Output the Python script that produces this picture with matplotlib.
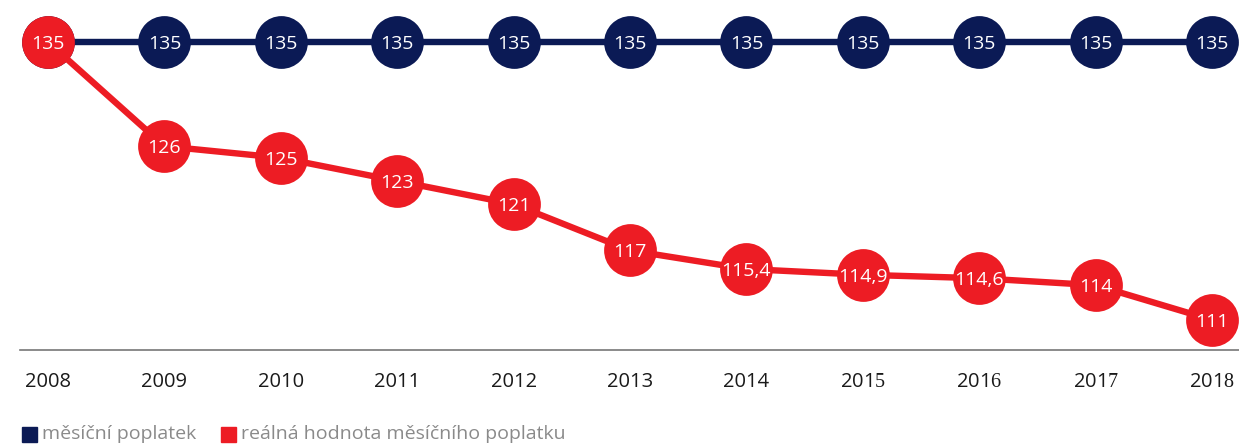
import matplotlib.pyplot as plt
from matplotlib.patches import Rectangle

plt.rcParams['font.family'] = ['Open Sans', 'DejaVu Sans']
# the source renders the last digit of some years in a serif face
plt.rcParams['mathtext.fontset'] = 'custom'
plt.rcParams['mathtext.rm'] = 'Liberation Serif'

years = [2008, 2009, 2010, 2011, 2012, 2013, 2014, 2015, 2016, 2017, 2018]
monthly_fee = [135, 135, 135, 135, 135, 135, 135, 135, 135, 135, 135]
real_value = [135, 126, 125, 123, 121, 117, 115.4, 114.9, 114.6, 114, 111]
year_labels = ['2008', '2009', '2010', '2011', '2012', '2013', '2014',
               r'201$\mathrm{5}$', r'201$\mathrm{6}$', r'201$\mathrm{7}$',
               r'201$\mathrm{8}$']
series_names = ['měsíční poplatek', 'reálná hodnota měsíčního poplatku']

BLUE = '#0b1a55'
RED = '#ed1c24'

W, H = 1239, 444
fig = plt.figure(figsize=(W / 100, H / 100), dpi=100)
# axes from x=20px to right edge, from top to baseline at y=350px
ax = fig.add_axes([20 / W, (H - 350) / H, 1 - 20 / W, 350 / H])

px_per_year = 116.4
ax.set_xlim(2008 - 28 / px_per_year, 2008 + (W - 48) / px_per_year)
px_per_unit = 11.58
ax.set_ylim(135 - (350 - 42) / px_per_unit, 135 + 42 / px_per_unit)


def fmt(v):
    return f'{v:g}'.replace('.', ',')


ax.plot(years, monthly_fee, color=BLUE, lw=4.6, marker='o', ms=38,
        mec='none', clip_on=False, zorder=2)
ax.plot(years, real_value, color=RED, lw=4.6, marker='o', ms=38,
        mec='none', clip_on=False, zorder=3)
# first red marker sits on top of the blue one
for x, y in zip(years[1:], monthly_fee[1:]):
    ax.text(x, y, fmt(y), color='white', fontsize=14, ha='center',
            va='center_baseline', zorder=5)
for x, y in zip(years, real_value):
    ax.text(x, y, fmt(y), color='white', fontsize=14, ha='center',
            va='center_baseline', zorder=5)

for s in ['top', 'right', 'left']:
    ax.spines[s].set_visible(False)
ax.spines['bottom'].set_color('#777777')
ax.spines['bottom'].set_linewidth(1.2)
ax.set_yticks([])
ax.set_xticks(years)
ax.set_xticklabels(year_labels)
ax.tick_params(axis='x', length=0, pad=16, labelsize=14.5, labelcolor='#1a1a1a')

# legend
legend_items = [(22, BLUE, series_names[0]), (221, RED, series_names[1])]
for x0, c, label in legend_items:
    fig.patches.append(Rectangle((x0 / W, (H - 442) / H), 15 / W, 15 / H,
                                 transform=fig.transFigure, color=c))
    fig.text((x0 + 20) / W, (H - 434) / H, label, fontsize=14,
             color='#8a8a8a', va='center', ha='left')

fig.savefig('out.png', dpi=100)
